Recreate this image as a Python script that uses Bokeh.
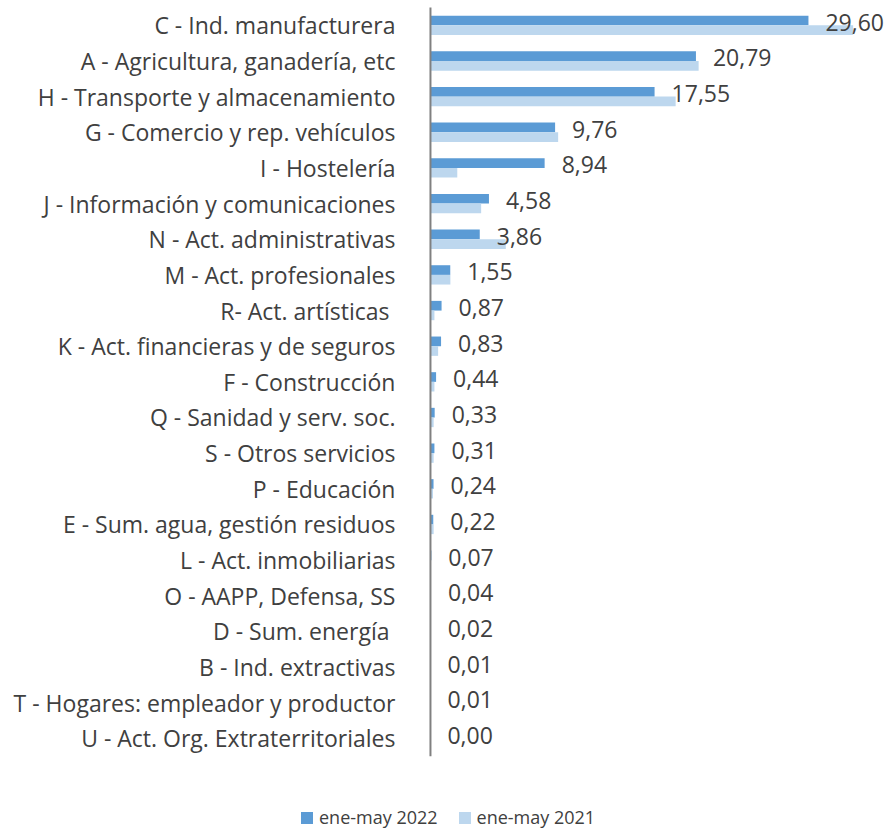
from bokeh.plotting import figure
from bokeh.models import ColumnDataSource, Range1d, Legend, LegendItem
from bokeh.core.properties import value
from bokeh.embed import file_html
from bokeh.resources import INLINE

categories = [
    "C - Ind. manufacturera",
    "A - Agricultura, ganadería, etc",
    "H - Transporte y almacenamiento",
    "G - Comercio y rep. vehículos",
    "I - Hostelería",
    "J - Información y comunicaciones",
    "N - Act. administrativas",
    "M - Act. profesionales",
    "R-  Act. artísticas",
    "K - Act. financieras y de seguros",
    "F - Construcción",
    "Q - Sanidad y serv. soc.",
    "S - Otros servicios",
    "P - Educación",
    "E - Sum. agua, gestión residuos",
    "L - Act. inmobiliarias",
    "O - AAPP, Defensa, SS",
    "D - Sum. energía ",
    "B - Ind. extractivas",
    "T - Hogares: empleador y productor",
    "U - Act. Org. Extraterritoriales",
]
values_2022 = [29.60, 20.79, 17.55, 9.76, 8.94, 4.58, 3.86, 1.55, 0.87, 0.83, 0.44,
               0.33, 0.31, 0.24, 0.22, 0.07, 0.04, 0.02, 0.01, 0.01, 0.00]
values_2021 = [33.1, 21.0, 19.2, 10.0, 2.1, 3.97, 5.9, 1.56, 0.31, 0.60, 0.31,
               0.25, 0.25, 0.20, 0.25, 0.02, 0.02, 0.01, 0.01, 0.00, 0.00]
series_names = ["ene-may 2022", "ene-may 2021"]

FONT = "Open Sans"
TXT = "#404040"

n = len(categories)
idx = list(range(n))
labels = [f"{v:.2f}".replace(".", ",") for v in values_2022]
src = ColumnDataSource(dict(
    y=idx,
    y22=[i - 0.135 for i in idx],
    y21=[i + 0.135 for i in idx],
    v22=values_2022,
    v21=values_2021,
    lab=labels,
    cat=categories,
    zero=[0] * n,
))

W, H = 887, 832
p = figure(width=W, height=H, output_backend="svg", toolbar_location=None,
           x_range=Range1d(-33.67, 35.79), y_range=Range1d(22.64, -0.696),
           min_border_left=0, min_border_right=0, min_border_top=0,
           min_border_bottom=0, x_axis_location=None, y_axis_location=None)
p.outline_line_color = None
p.grid.visible = False
p.background_fill_color = "white"
p.border_fill_color = "white"

r22 = p.hbar(y="y22", left=0, right="v22", height=0.272, source=src,
             fill_color="#5B9BD5", line_color=None)
r21 = p.hbar(y="y21", left=0, right="v21", height=0.272, source=src,
             fill_color="#BDD7EE", line_color=None)

# value labels
p.text(x="v22", y="y", text="lab", source=src, x_offset=17, y_offset=-3,
       text_baseline="middle", text_align="left", text_color=TXT,
       text_font=value(FONT), text_font_size="23px")

# category labels (vertical axis)
p.text(x="zero", y="y", text="cat", source=src, x_offset=-35, y_offset=0,
       text_baseline="middle", text_align="right", text_color=TXT,
       text_font=value(FONT), text_font_size="23px")

# vertical axis line
p.segment(x0=0, y0=-0.5, x1=0, y1=n - 0.5, line_color="#808080", line_width=2)

legend = Legend(items=[LegendItem(label=series_names[0], renderers=[r22]),
                       LegendItem(label=series_names[1], renderers=[r21])],
                location=(299, 3), orientation="horizontal",
                padding=0, margin=0, spacing=19, glyph_width=15, glyph_height=15,
                label_standoff=5, label_text_font=FONT, label_text_font_size="18px",
                label_text_color=TXT, border_line_alpha=0, background_fill_alpha=0)
p.add_layout(legend, "center")

open("out.html", "w").write(file_html(p, INLINE))
